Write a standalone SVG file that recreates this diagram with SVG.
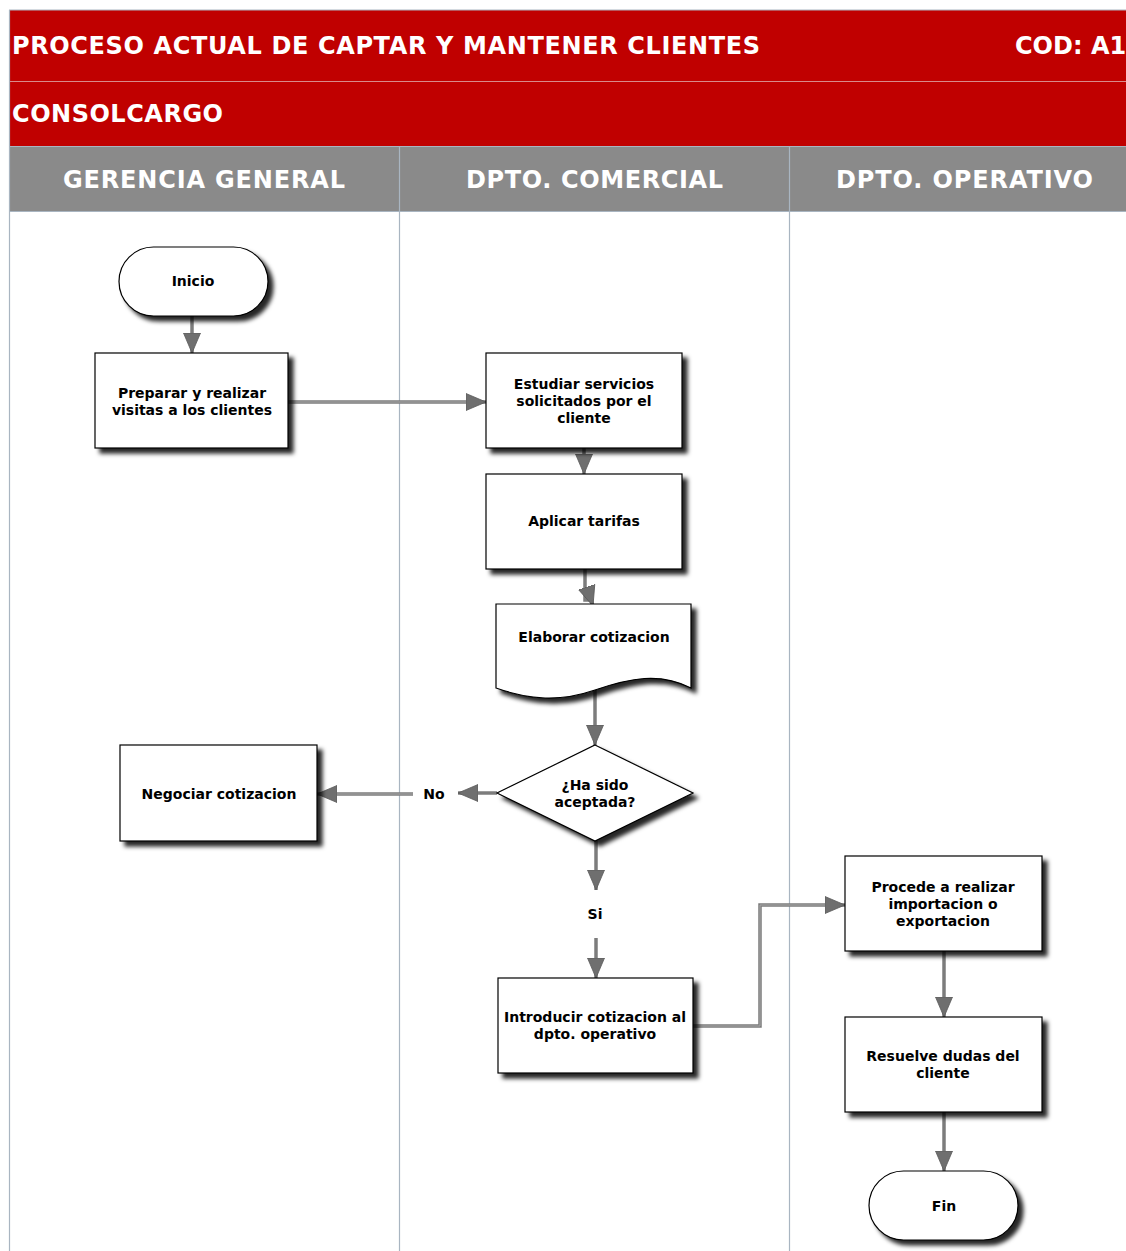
<svg xmlns="http://www.w3.org/2000/svg" width="1126" height="1251" viewBox="0 0 1126 1251">
  <style>
    .band { fill: #c00000; }
    .lanehead { fill: #8a8a8a; }
    .sep { stroke: #a9b5c1; stroke-width: 1.2; fill: none; }
    .hdr { font-family: "DejaVu Sans", Verdana, sans-serif; font-weight: bold; fill: #ffffff; font-size: 24px; }
    .shape { fill: #ffffff; stroke: #000000; stroke-width: 1.2; filter: url(#shadow); }
    .lbl { font-family: "DejaVu Sans", Verdana, sans-serif; font-weight: bold; font-size: 14px; fill: #000000; text-anchor: middle; }
    .wire { fill: none; stroke: #7c7c7c; stroke-width: 3.5; }
    .wire-hi { fill: none; stroke: #a8a8a8; stroke-width: 1; }
  </style>
  <defs>
    <filter id="shadow" x="-10%" y="-10%" width="130%" height="140%">
      <feDropShadow dx="5" dy="5" stdDeviation="2.2" flood-color="#000000" flood-opacity="0.85"/>
    </filter>
    <marker id="arrow" markerUnits="userSpaceOnUse" markerWidth="24" markerHeight="22" refX="20" refY="10" orient="auto">
      <path d="M0,1.5 L20,10 L0,18.5 Z" fill="#6f6f6f" stroke="#5a5a5a" stroke-width="0.8"/>
    </marker>
  </defs>

  <rect width="1126" height="1251" fill="#ffffff"/>

  <!-- Title bands -->
  <g id="title">
    <rect class="band" x="9" y="10" width="1117" height="71"/>
    <rect class="band" x="9" y="82" width="1117" height="64"/>
    <line x1="9" y1="81.5" x2="1126" y2="81.5" stroke="#d98a8a" stroke-width="1"/>
    <line x1="9" y1="10" x2="1126" y2="10" stroke="#a9b5c1" stroke-width="1.2"/>
    <text class="hdr" x="12" y="54" textLength="748" lengthAdjust="spacing">PROCESO ACTUAL DE CAPTAR Y MANTENER CLIENTES</text>
    <text class="hdr" x="1015" y="54">COD: A1</text>
    <text class="hdr" x="12" y="122" textLength="211" lengthAdjust="spacing">CONSOLCARGO</text>
  </g>

  <!-- Swimlane headers -->
  <g id="lanes">
    <rect class="lanehead" x="9" y="147" width="1117" height="64"/>
    <line x1="9" y1="146.5" x2="1126" y2="146.5" stroke="#a9b5c1" stroke-width="1.2"/>
    <line x1="9" y1="211.5" x2="1126" y2="211.5" stroke="#a9b5c1" stroke-width="1.2"/>
    <line class="sep" x1="9.5" y1="10" x2="9.5" y2="1251"/>
    <line class="sep" x1="399.5" y1="147" x2="399.5" y2="1251"/>
    <line class="sep" x1="789.5" y1="147" x2="789.5" y2="1251"/>
    <text class="hdr" x="63" y="188" textLength="282" lengthAdjust="spacing">GERENCIA GENERAL</text>
    <text class="hdr" x="466" y="188" textLength="257" lengthAdjust="spacing">DPTO. COMERCIAL</text>
    <text class="hdr" x="836" y="188" textLength="257" lengthAdjust="spacing">DPTO. OPERATIVO</text>
  </g>

  <!-- Connectors -->
  <g id="connectors">
    <path class="wire" d="M192,316 V353" marker-end="url(#arrow)"/>
    <path class="wire" d="M288,402 H486" marker-end="url(#arrow)"/>
    <path class="wire" d="M584,448 V474" marker-end="url(#arrow)"/>
    <path class="wire" d="M585,569 V600 H591 L593,606" marker-end="url(#arrow)"/>
    <path class="wire" d="M595,690 V745" marker-end="url(#arrow)"/>
    <path class="wire" d="M497,793 H458" marker-end="url(#arrow)"/>
    <path class="wire" d="M413,794 H317" marker-end="url(#arrow)"/>
    <path class="wire" d="M596,841 V890" marker-end="url(#arrow)"/>
    <path class="wire" d="M596,938 V978" marker-end="url(#arrow)"/>
    <path class="wire" d="M693,1026 H760 V905 H845" marker-end="url(#arrow)"/>
    <path class="wire" d="M944,951 V1017" marker-end="url(#arrow)"/>
    <path class="wire" d="M944,1112 V1171" marker-end="url(#arrow)"/>
    <path class="wire-hi" d="M288,402 H466 M413,794 H337 M693,1026 H760 V905 H825"/>
  </g>

  <!-- Nodes -->
  <g id="inicio">
    <rect class="shape" x="119" y="247" width="149" height="69" rx="34.5"/>
    <text class="lbl" x="193" y="286">Inicio</text>
  </g>
  <g id="preparar">
    <rect class="shape" x="95" y="353" width="193" height="95"/>
    <text class="lbl" x="192" y="398">Preparar y realizar</text>
    <text class="lbl" x="192" y="415">visitas a los clientes</text>
  </g>
  <g id="estudiar">
    <rect class="shape" x="486" y="353" width="196" height="95"/>
    <text class="lbl" x="584" y="389">Estudiar servicios</text>
    <text class="lbl" x="584" y="406">solicitados por el</text>
    <text class="lbl" x="584" y="423">cliente</text>
  </g>
  <g id="aplicar">
    <rect class="shape" x="486" y="474" width="196" height="95"/>
    <text class="lbl" x="584" y="526">Aplicar tarifas</text>
  </g>
  <g id="elaborar">
    <path class="shape" d="M496,604 H691 V688 C660,672 630,678 595,690 C560,702 530,700 496,688 Z"/>
    <text class="lbl" x="594" y="642">Elaborar cotizacion</text>
  </g>
  <g id="decision">
    <path class="shape" d="M595,745 L693,793 L595,841 L497,793 Z"/>
    <text class="lbl" x="595" y="790">¿Ha sido</text>
    <text class="lbl" x="595" y="807">aceptada?</text>
  </g>
  <g id="no-label">
    <text class="lbl" x="434" y="799">No</text>
  </g>
  <g id="si-label">
    <text class="lbl" x="595" y="919">Si</text>
  </g>
  <g id="negociar">
    <rect class="shape" x="120" y="745" width="197" height="96"/>
    <text class="lbl" x="219" y="799">Negociar cotizacion</text>
  </g>
  <g id="introducir">
    <rect class="shape" x="498" y="978" width="195" height="95"/>
    <text class="lbl" x="595" y="1022">Introducir cotizacion al</text>
    <text class="lbl" x="595" y="1039">dpto. operativo</text>
  </g>
  <g id="procede">
    <rect class="shape" x="845" y="856" width="197" height="95"/>
    <text class="lbl" x="943" y="892">Procede a realizar</text>
    <text class="lbl" x="943" y="909">importacion o</text>
    <text class="lbl" x="943" y="926">exportacion</text>
  </g>
  <g id="resuelve">
    <rect class="shape" x="845" y="1017" width="197" height="95"/>
    <text class="lbl" x="943" y="1061">Resuelve dudas del</text>
    <text class="lbl" x="943" y="1078">cliente</text>
  </g>
  <g id="fin">
    <rect class="shape" x="869" y="1171" width="149" height="69" rx="34.5"/>
    <text class="lbl" x="944" y="1211">Fin</text>
  </g>
</svg>
